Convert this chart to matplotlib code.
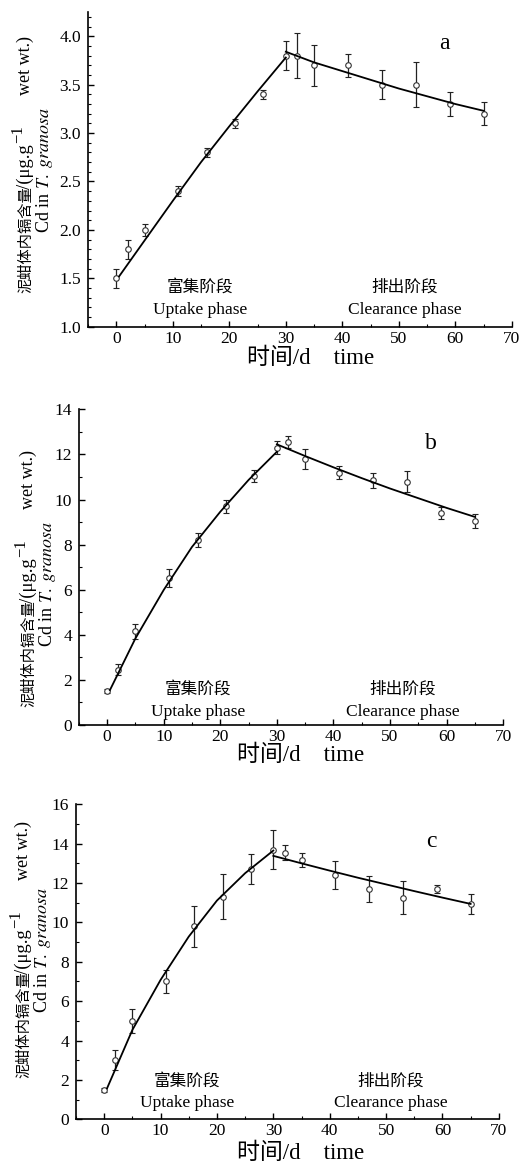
import matplotlib
matplotlib.use('Agg')
import matplotlib.pyplot as plt
from matplotlib.ticker import MultipleLocator

plt.rcParams['font.family'] = ['Liberation Serif', 'Noto Sans CJK SC']
plt.rcParams['mathtext.fontset'] = 'stix'

W, H = 522, 1169

# sampling days
t = [0, 2, 5, 11, 16, 21, 26, 30, 32, 35, 41, 47, 53, 59, 65]

# panel a
ya = [1.5, 1.8, 2.0, 2.4, 2.8, 3.1, 3.4, 3.8, 3.8, 3.7, 3.7, 3.5, 3.5, 3.3, 3.2]
ea = [0.1, 0.1, 0.06, 0.05, 0.05, 0.05, 0.05, 0.15, 0.23, 0.21, 0.12, 0.15, 0.23, 0.12, 0.12]
# panel b
yb = [1.5, 2.45, 4.15, 6.5, 8.2, 9.7, 11.05, 12.3, 12.55, 11.8, 11.2, 10.85, 10.8, 9.4, 9.05]
eb = [0.1, 0.25, 0.35, 0.4, 0.3, 0.28, 0.25, 0.3, 0.25, 0.43, 0.3, 0.33, 0.46, 0.25, 0.33]
# panel c
yc = [1.5, 3.0, 5.0, 7.0, 9.8, 11.3, 12.7, 13.7, 13.55, 13.15, 12.4, 11.7, 11.25, 11.7, 10.95]
ec = [0.1, 0.5, 0.6, 0.58, 1.03, 1.15, 0.76, 1.0, 0.4, 0.35, 0.71, 0.65, 0.83, 0.22, 0.5]

# fitted curves
tu = [0.5, 5, 10, 15, 20, 25, 30]
fua = [1.52, 1.89, 2.30, 2.70, 3.07, 3.43, 3.78]
fub = [1.55, 3.84, 5.99, 7.90, 9.46, 10.87, 12.12]
fuc = [1.57, 4.54, 7.08, 9.28, 11.11, 12.50, 13.65]
td = [30, 35, 40, 45, 50, 55, 60, 65]
fda = [3.84, 3.73, 3.64, 3.55, 3.46, 3.38, 3.30, 3.23]
fdb = [12.45, 11.93, 11.43, 10.95, 10.49, 10.06, 9.63, 9.23]
fdc = [13.38, 13.00, 12.63, 12.27, 11.93, 11.59, 11.26, 10.94]


def fx(px):
    return px / W


def fy(py):
    return 1 - py / H


def vtext(px, py, s, size):
    # rotated text, baseline at px, starting at py and running upward
    fig.text(fx(px), fy(py), s, rotation=90, fontsize=size,
             ha='left', va='baseline', rotation_mode='anchor')


fig = plt.figure(figsize=(5.22, 11.69), dpi=100)

panels = [
    dict(rect=[0.1686, 0.7205, 0.812, 0.2692], y=ya, e=ea, fu=fua, fd=fda,
         ylim=(1.0, 4.25), major=0.5, minor=0.1, fmt='%.1f', tag='a', tagpos=(58.1, 3.93),
         up=(14.8, 1.40, 1.17), cl=(51.1, 1.40, 1.17),
         xl=(311, 358), l1=(30, 293), l2=(49, 233)),
    dict(rect=[0.151, 0.3798, 0.813, 0.270], y=yb, e=eb, fu=fub, fd=fdb,
         ylim=(0, 14), major=2, minor=1, fmt='%d', tag='b', tagpos=(57.3, 12.49),
         up=(16.0, 1.55, 0.59), cl=(52.2, 1.55, 0.59),
         xl=(301, 755), l1=(33, 707), l2=(52, 647)),
    dict(rect=[0.1456, 0.0425, 0.810, 0.2695], y=yc, e=ec, fu=fuc, fd=fdc,
         ylim=(0, 16), major=2, minor=1, fmt='%d', tag='c', tagpos=(58.1, 14.13),
         up=(14.7, 1.91, 0.81), cl=(50.8, 1.91, 0.81),
         xl=(301, 1153), l1=(28, 1078), l2=(47, 1013)),
]

for p in panels:
    ax = fig.add_axes(p['rect'])
    ax.errorbar(t, p['y'], yerr=p['e'], fmt='o', mfc='white', mec='#333333', ms=4,
                mew=0.8, ecolor='#222222', elinewidth=0.9, capsize=2.5, capthick=0.9, zorder=3)
    ax.plot(tu, p['fu'], color='black', lw=1.3, zorder=4)
    ax.plot(td, p['fd'], color='black', lw=1.3, zorder=4)

    ax.set_xlim(-5, 70)
    ax.set_ylim(*p['ylim'])
    ax.spines['top'].set_visible(False)
    ax.spines['right'].set_visible(False)
    ax.spines['left'].set_linewidth(1.2)
    ax.spines['bottom'].set_linewidth(1.2)
    ax.xaxis.set_major_locator(MultipleLocator(10))
    ax.xaxis.set_minor_locator(MultipleLocator(5))
    ax.yaxis.set_major_locator(MultipleLocator(p['major']))
    ax.yaxis.set_minor_locator(MultipleLocator(p['minor']))
    ax.yaxis.set_major_formatter(plt.FormatStrFormatter(p['fmt']))
    ax.tick_params(which='major', direction='in', length=4, width=1, labelsize=12.5)
    ax.tick_params(axis='x', which='major', pad=3)
    ax.tick_params(axis='y', which='major', pad=5)
    ax.tick_params(which='minor', direction='in', length=2, width=0.8)

    ax.text(p['tagpos'][0], p['tagpos'][1], p['tag'], fontsize=17, ha='center', va='center')
    ax.text(p['up'][0], p['up'][1], '富集阶段', fontsize=12, ha='center', va='center')
    ax.text(p['up'][0], p['up'][2], 'Uptake phase', fontsize=12.5, ha='center', va='center')
    ax.text(p['cl'][0], p['cl'][1], '排出阶段', fontsize=12, ha='center', va='center')
    ax.text(p['cl'][0], p['cl'][2], 'Clearance phase', fontsize=12.5, ha='center', va='center')

    fig.text(fx(p['xl'][0]), fy(p['xl'][1]), '时间/d    time', fontsize=16.5,
             ha='center', va='center')

    # y label, line 1 built from pieces so the superscript stays large
    bx, y0 = p['l1']
    vtext(bx, y0, '泥蚶体内镉含量', 11)
    vtext(bx, y0 - 104, '/(μg.g', 13.5)
    vtext(bx - 8, y0 - 150, '−1', 12)
    vtext(bx, y0 - 198, 'wet wt.)', 13)
    bx2, y2 = p['l2']
    vtext(bx2, y2, 'Cd in $\\it{T.\\ granosa}$', 13)

fig.savefig('out.png', dpi=100)
